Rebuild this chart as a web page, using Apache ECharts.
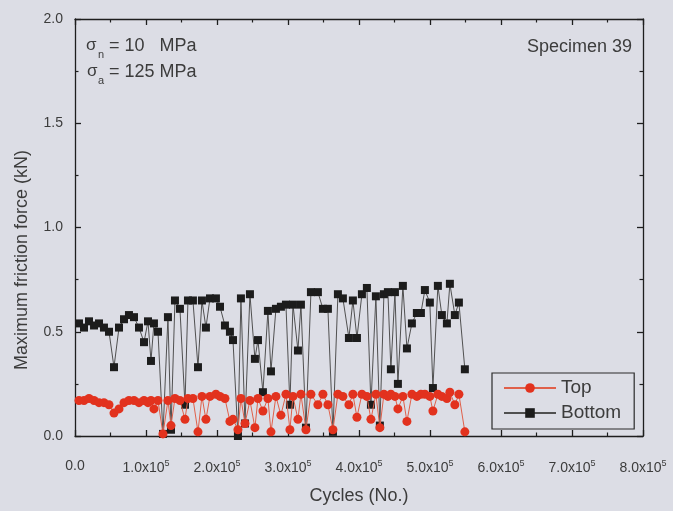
<!DOCTYPE html>
<html>
<head>
<meta charset="utf-8">
<script src="https://cdn.jsdelivr.net/npm/echarts@6/dist/echarts.min.js"></script>
<style>
  html, body { margin: 0; padding: 0; background: #dcdde5; }
  #chart { width: 673px; height: 511px; }
</style>
</head>
<body>
<div id="chart"></div>
<script>
// Fretting test, specimen 39: maximum friction force per recorded cycle
const cycles = [
  5600, 12700, 19700, 26800, 33800, 40800, 47900, 54900, 62000, 69000,
  76000, 83100, 90100, 97200, 102800, 107000, 111200, 116900, 123900, 130900,
  135200, 140800, 147800, 154900, 159100, 166100, 173200, 178800, 184400, 190100,
  198500, 204200, 211200, 218200, 222500, 229500, 233700, 239400, 246400, 253400,
  257700, 264700, 271700, 276000, 283000, 290000, 297100, 302700, 307000, 314000,
  318200, 325300, 332300, 342100, 349200, 356200, 363300, 370300, 377300, 385800,
  391400, 397100, 404100, 411100, 416800, 423800, 429400, 435100, 440700, 444900,
  450600, 454800, 461800, 467500, 474500, 481500, 487200, 492800, 499800, 504100,
  511100, 516700, 523800, 528000, 535000, 540700, 549100
];

// Top contact (kN)
const topForce = [
  0.17, 0.17, 0.18, 0.17, 0.16, 0.16, 0.15, 0.11, 0.13, 0.16,
  0.17, 0.17, 0.16, 0.17, 0.16, 0.17, 0.13, 0.17, 0.01, 0.17,
  0.05, 0.18, 0.17, 0.08, 0.18, 0.18, 0.02, 0.19, 0.08, 0.19,
  0.20, 0.19, 0.18, 0.07, 0.08, 0.03, 0.18, 0.06, 0.17, 0.04,
  0.18, 0.12, 0.18, 0.02, 0.19, 0.10, 0.20, 0.03, 0.19, 0.08,
  0.20, 0.03, 0.20, 0.15, 0.20, 0.15, 0.03, 0.20, 0.19, 0.15,
  0.20, 0.09, 0.20, 0.19, 0.08, 0.20, 0.04, 0.20, 0.19, 0.20,
  0.19, 0.13, 0.19, 0.07, 0.20, 0.19, 0.20, 0.20, 0.19, 0.12,
  0.20, 0.19, 0.18, 0.21, 0.15, 0.20, 0.02
];

// Bottom contact (kN)
const bottomForce = [
  0.54, 0.52, 0.55, 0.53, 0.54, 0.52, 0.50, 0.33, 0.52, 0.56,
  0.58, 0.57, 0.52, 0.45, 0.55, 0.36, 0.54, 0.50, 0.01, 0.57,
  0.03, 0.65, 0.61, 0.15, 0.65, 0.65, 0.33, 0.65, 0.52, 0.66,
  0.66, 0.62, 0.53, 0.50, 0.46, 0.00, 0.66, 0.06, 0.68, 0.37,
  0.46, 0.21, 0.60, 0.31, 0.61, 0.62, 0.63, 0.15, 0.63, 0.41,
  0.63, 0.04, 0.69, 0.69, 0.61, 0.61, 0.02, 0.68, 0.66, 0.47,
  0.65, 0.47, 0.68, 0.71, 0.15, 0.67, 0.05, 0.68, 0.69, 0.32,
  0.69, 0.25, 0.72, 0.42, 0.54, 0.59, 0.59, 0.70, 0.64, 0.23,
  0.72, 0.58, 0.54, 0.73, 0.58, 0.64, 0.32
];

const xTickLabels = ['0.0', '1.0x10^5', '2.0x10^5', '3.0x10^5', '4.0x10^5',
                     '5.0x10^5', '6.0x10^5', '7.0x10^5', '8.0x10^5'];
const yTickLabels = ['0.0', '0.5', '1.0', '1.5', '2.0'];

const INK = '#3c3c3c';
const FRAME = '#1e1e1e';
const RED = '#e2321e';
const BLACK = '#1c1c1c';
const FONT = '"Liberation Sans", Arial, sans-serif';

const chart = echarts.init(document.getElementById('chart'), null, { renderer: 'canvas' });

function xLabel(v) {
  const i = Math.round(v / 1e5);
  if (Math.abs(v - i * 1e5) > 1) return '';
  const s = xTickLabels[i] || '';
  const parts = s.split('^');
  return parts.length > 1 ? parts[0] + '{sup|' + parts[1] + '}' : s;
}

function yLabel(v) {
  const i = Math.round(v / 0.5);
  return yTickLabels[i] || '';
}

function frameAxis() {
  return {
    axisLine: { show: true, onZero: false, lineStyle: { color: FRAME, width: 1.3 } },
    axisTick: { show: true, inside: true, length: 6, lineStyle: { color: FRAME, width: 1.3 } },
    minorTick: { show: true, splitNumber: 2, length: 3.5, lineStyle: { color: FRAME, width: 1.2 } },
    splitLine: { show: false },
    minorSplitLine: { show: false }
  };
}

const option = {
  backgroundColor: '#dcdde5',
  animation: false,
  textStyle: { fontFamily: FONT },
  grid: { left: 75, right: 30, top: 19, bottom: 75, containLabel: false, outerBoundsMode: 'none' },
  legend: {
    orient: 'vertical',
    left: 492,
    top: 373,
    padding: [4, 13, 5, 11],
    itemGap: 3,
    itemWidth: 52,
    itemHeight: 12,
    borderColor: '#2a2a2a',
    borderWidth: 1.2,
    textStyle: { fontSize: 19, color: INK, fontFamily: FONT, lineHeight: 22 },
    data: ['Top', 'Bottom']
  },
  xAxis: [
    Object.assign({
      type: 'value', min: 0, max: 800000, interval: 100000, position: 'bottom',
      name: 'Cycles (No.)', nameLocation: 'middle', nameGap: 51,
      nameTextStyle: { fontSize: 18, color: INK, fontFamily: FONT },
      axisLabel: {
        show: true, margin: 23, color: INK, fontSize: 14, fontFamily: FONT,
        formatter: xLabel,
        rich: { sup: { fontSize: 9, color: INK, padding: [0, 0, 9, 0], fontFamily: FONT } }
      }
    }, frameAxis()),
    Object.assign({
      type: 'value', min: 0, max: 800000, interval: 100000, position: 'top',
      axisLabel: { show: false }
    }, frameAxis())
  ],
  yAxis: [
    Object.assign({
      type: 'value', min: 0, max: 2, interval: 0.5, position: 'left',
      axisLabel: { show: true, margin: 12, color: INK, fontSize: 14, fontFamily: FONT, formatter: yLabel }
    }, frameAxis()),
    Object.assign({
      type: 'value', min: 0, max: 2, interval: 0.5, position: 'right',
      axisLabel: { show: false }
    }, frameAxis())
  ],
  graphic: [
    {
      type: 'text', x: 22, y: 260, rotation: Math.PI / 2,
      style: { text: 'Maximum friction force (kN)', font: '18px ' + FONT, fill: INK,
               align: 'center', verticalAlign: 'middle' }
    },
    { type: 'text', x: 86, y: 45, style: { text: 'σ', font: '17px ' + FONT, fill: INK, verticalAlign: 'middle' } },
    { type: 'text', x: 98, y: 55, style: { text: 'n', font: '11px ' + FONT, fill: INK, verticalAlign: 'middle' } },
    { type: 'text', x: 109, y: 46, style: { text: '= 10   MPa', font: '18px ' + FONT, fill: INK, verticalAlign: 'middle' } },
    { type: 'text', x: 87, y: 71, style: { text: 'σ', font: '17px ' + FONT, fill: INK, verticalAlign: 'middle' } },
    { type: 'text', x: 98, y: 81, style: { text: 'a', font: '11px ' + FONT, fill: INK, verticalAlign: 'middle' } },
    { type: 'text', x: 109, y: 72, style: { text: '= 125 MPa', font: '18px ' + FONT, fill: INK, verticalAlign: 'middle' } },
    { type: 'text', x: 632, y: 47, style: { text: 'Specimen 39', font: '18px ' + FONT, fill: INK,
      align: 'right', verticalAlign: 'middle' } }
  ],
  series: [
    {
      name: 'Bottom', type: 'line', xAxisIndex: 0, yAxisIndex: 0, z: 2,
      data: cycles.map((c, i) => [c, bottomForce[i]]),
      symbol: 'rect', symbolSize: 8,
      itemStyle: { color: BLACK },
      lineStyle: { color: '#505050', width: 1 }
    },
    {
      name: 'Top', type: 'line', xAxisIndex: 0, yAxisIndex: 0, z: 3,
      data: cycles.map((c, i) => [c, topForce[i]]),
      symbol: 'circle', symbolSize: 9,
      itemStyle: { color: RED },
      lineStyle: { color: '#e0604a', width: 1 }
    },
    {
      // keeps the mirrored top/right frame axes active
      name: 'frame', type: 'line', xAxisIndex: 1, yAxisIndex: 1,
      data: [], silent: true, showSymbol: false
    }
  ]
};

chart.setOption(option);
</script>
</body>
</html>
